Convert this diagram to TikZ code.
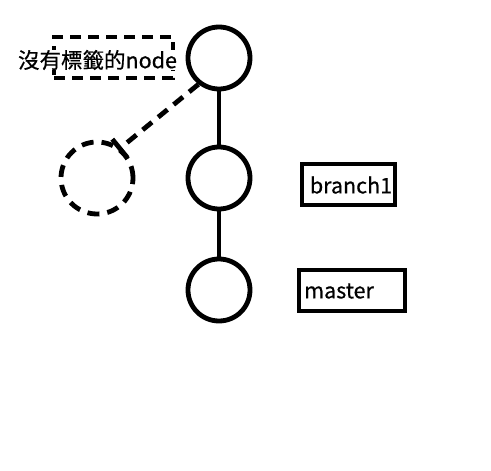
\documentclass[tikz,border=0pt]{standalone}
\usepackage{fontspec}
\setmainfont{Noto Sans CJK TC}
\newfontfamily\lblfont[FakeBold=0.6]{Noto Sans CJK TC}
\usetikzlibrary{arrows.meta}

\begin{document}
\begin{tikzpicture}[x=1pt,y=-1pt,
    commit/.style={circle, draw=black, line width=4.8pt, minimum size=62pt, inner sep=0pt},
    ghost/.style={circle, draw=black, line width=4.8pt, minimum size=72pt, inner sep=0pt,
        dash pattern=on 12pt off 8pt},
    link/.style={line width=4.8pt, black},
    reflink/.style={line width=4.8pt, black, dash pattern=on 12pt off 8pt},
    tagbox/.style={draw=black, line width=4.5pt, minimum height=41pt, inner sep=0pt},
    lbl/.style={font=\lblfont\fontsize{21.5}{24}\selectfont, inner sep=0pt}]

  \useasboundingbox (0,0) rectangle (491,471);

  % ---- the commits ----
  \node[commit] (C1) at (219,58) {};
  \node[commit] (C2) at (219,178) {};
  \node[commit] (C3) at (219,290) {};
  \draw[link] (C1) -- (C2);
  \draw[link] (C2) -- (C3);

  % ---- the commit with no label, and its dashed link ----
  \node[ghost] (G) at (97,178) {};
  \coordinate (GT) at (118,150);
  \draw[reflink, -{Bar[width=24pt, line width=4.8pt]}] (C1.232) -- (GT);

  \node[tagbox, dash pattern=on 11pt off 7pt, minimum width=119pt] (NB) at (113.5,57.5) {};
  \node[lbl, fill=white] (NL) at (97.5,60) {沒有標籤的node};

  % ---- branch labels ----
  \node[tagbox, minimum width=93pt] (B1) at (348.5,184.5) {};
  \node[lbl] (B1L) at (351,185) {branch1};

  \node[tagbox, minimum width=106pt] (MS) at (352,290.5) {};
  \node[lbl, anchor=west] (MSL) at (304,291) {master};

\end{tikzpicture}
\end{document}
